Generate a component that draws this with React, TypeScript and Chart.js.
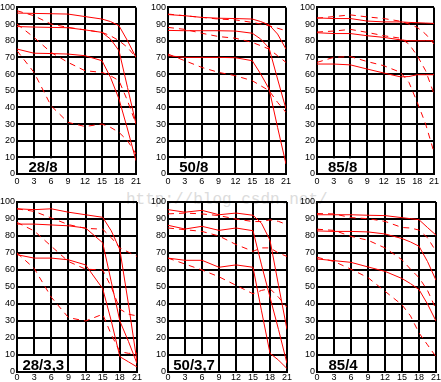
import React, { useEffect, useRef } from "react";
import { Chart, registerables } from "chart.js";
Chart.register(...registerables);

// shared field positions (mm from image centre)
const X = [0, 3, 6, 9, 12, 15, 16.5, 18, 19.5, 21];
const TITLES = ["28/8", "50/8", "85/8", "28/3,3", "50/3,7", "85/4"];

// 28/8
const P1_S1 = [96.6, 96.4, 96.2, 96, 94.5, 93, 91.5, 89, 80, 70];
const P1_S2 = [88.5, 88.2, 88, 87.8, 86.5, 85, 81, 74, 52, 30];
const P1_S3 = [75, 72.5, 72.3, 72, 71, 68, 58, 45, 27, 8];
const P1_D1 = [98, 95, 90, 88, 86.5, 85, 83, 80, 76, 70];
const P1_D2 = [90, 82, 73, 67, 62, 61, 59, 56, 44, 30];
const P1_D3 = [74, 61, 41, 31, 28.5, 30, 28, 25, 20, 12];
// 50/8
const P2_S1 = [95.7, 95, 94, 93.5, 93.3, 93, 91.5, 89.5, 84, 75];
const P2_S2 = [86.2, 86, 86, 86, 85.8, 84.5, 81, 75.5, 57, 39];
const P2_S3 = [71, 70, 70, 70, 69.8, 68, 60, 51, 28, 6];
const P2_D1 = [96, 95, 94, 93, 92.5, 91, 90, 89, 87.5, 86];
const P2_D2 = [88, 86.8, 84.5, 82.5, 81.5, 79, 77, 75, 71, 67];
const P2_D3 = [72, 68, 64, 61, 59, 56, 53, 50, 43, 37];
// 85/8
const P3_S1 = [93.7, 93.3, 93.3, 91.8, 91.3, 91.3, 91, 90.8, 90.6, 90.4];
const P3_S2 = [84.8, 84.3, 84.3, 83, 82, 80.5, 80, 80, 80, 80];
const P3_S3 = [66, 66, 65.5, 63, 60.6, 58.3, 58.5, 59.6, 59.6, 59.6];
const P3_D1 = [93.5, 94.5, 95.5, 94.3, 93.3, 91.7, 90, 88, 84, 78];
const P3_D2 = [85.2, 85.8, 86.8, 85, 83, 81.5, 78, 71, 62, 48];
const P3_D3 = [67, 70, 70.5, 67.5, 65, 61, 55, 43, 30, 13];
// 28/3,3
const P4_S1 = [96, 95.5, 96, 94, 92.5, 91, 83, 72, 40, 6];
const P4_S2 = [87, 87, 86.5, 86, 84.7, 76, 53, 30, 18, 5];
const P4_S3 = [69, 67, 67, 66, 63, 49, 30, 9, 6, 3];
const P4_D1 = [96, 94.5, 90.6, 86.7, 84.5, 84, 79, 73, 70.5, 68];
const P4_D2 = [88, 83, 74, 65, 60.5, 60, 50, 37, 34, 33];
const P4_D3 = [70, 61, 44, 32, 30, 34, 22, 12, 11, 11];
// 50/3,7
const P5_S1 = [95.5, 94, 95.1, 92.5, 93.5, 92.2, 87.5, 77.5, 51, 25];
const P5_S2 = [86.3, 84.1, 85.7, 83.3, 84.7, 83.1, 63, 44, 25, 5];
const P5_S3 = [67, 65.7, 65.7, 61.6, 63, 61.6, 36, 11, 7, 2];
const P5_D1 = [93, 93.5, 93, 92, 90, 88.5, 88.5, 89.5, 88.6, 86.7];
const P5_D2 = [84.7, 83.7, 82.7, 80, 75, 71, 73, 73, 70, 68];
const P5_D3 = [67, 63.5, 60, 56, 51, 46, 48, 49, 44, 38];
// 85/4
const P6_S1 = [92.5, 92.5, 92.5, 92.2, 92, 90.8, 90.2, 89.6, 85, 80.5];
const P6_S2 = [83, 82.7, 82.7, 82.4, 81.2, 78.5, 76.5, 74, 65, 54];
const P6_S3 = [66.5, 65.5, 64.5, 61.8, 59.2, 55, 52, 48.5, 40, 30];
const P6_D1 = [93.2, 93, 90.8, 90.2, 88.6, 85, 84.7, 83.5, 79, 71];
const P6_D2 = [84, 83.3, 79.8, 77.5, 73, 66, 60.5, 55.5, 48, 37];
const P6_D3 = [67.5, 65, 60.5, 55.5, 47.5, 39.5, 33, 23, 16, 9];

const SOLIDS = [
  [P1_S1, P1_S2, P1_S3],
  [P2_S1, P2_S2, P2_S3],
  [P3_S1, P3_S2, P3_S3],
  [P4_S1, P4_S2, P4_S3],
  [P5_S1, P5_S2, P5_S3],
  [P6_S1, P6_S2, P6_S3],
];
const DASHES = [
  [P1_D1, P1_D2, P1_D3],
  [P2_D1, P2_D2, P2_D3],
  [P3_D1, P3_D2, P3_D3],
  [P4_D1, P4_D2, P4_D3],
  [P5_D1, P5_D2, P5_D3],
  [P6_D1, P6_D2, P6_D3],
];

const FONT = '"Liberation Sans", Arial, sans-serif';

const labelPlugin = {
  id: "panelLabel",
  beforeDatasetsDraw(chart: any, _args: any, opts: any) {
    const { ctx } = chart;
    const x = chart.scales.x;
    const y = chart.scales.y;
    const x0 = x.getPixelForValue(0) + 1;
    const x1 = x.getPixelForValue(8.6);
    const y0 = y.getPixelForValue(10) + 1;
    const y1 = y.getPixelForValue(0) - 1;
    ctx.save();
    ctx.fillStyle = "#fff";
    ctx.fillRect(x0, y0, x1 - x0, y1 - y0);
    ctx.fillStyle = "#000";
    ctx.font = "bold 15px " + FONT;
    ctx.textAlign = "center";
    ctx.textBaseline = "alphabetic";
    ctx.fillText(opts.text, x.getPixelForValue(4.6), y.getPixelForValue(0) - 2);
    ctx.restore();
  },
};

type PanelProps = {
  idx: number;
  left: number;
  top: number;
  yw: number;
  plotW: number;
  padTop: number;
  plotH: number;
  xh: number;
  padRight: number;
  xPad: number;
};

function Panel(p: PanelProps) {
  const ref = useRef<HTMLCanvasElement | null>(null);
  const width = p.yw + p.plotW + p.padRight;
  const height = p.padTop + p.plotH + p.xh;
  useEffect(() => {
    if (!ref.current) return;
    const mk = (arr: number[], dashed: boolean) => ({
      data: X.map((xv, i) => ({ x: xv, y: arr[i] })),
      borderColor: "#ff0000",
      borderWidth: 1,
      borderDash: dashed ? [6, 5] : [],
      pointRadius: 0,
      tension: 0,
      fill: false,
    });
    const datasets = [
      ...SOLIDS[p.idx].map((a) => mk(a, false)),
      ...DASHES[p.idx].map((a) => mk(a, true)),
    ];
    const chart = new Chart(ref.current, {
      type: "line",
      data: { datasets },
      plugins: [labelPlugin as any],
      options: {
        animation: false,
        responsive: false,
        devicePixelRatio: 1,
        layout: { autoPadding: false, padding: { top: p.padTop, right: p.padRight, left: 0, bottom: 0 } },
        plugins: {
          legend: { display: false },
          tooltip: { enabled: false },
          panelLabel: { text: TITLES[p.idx] },
        } as any,
        scales: {
          x: {
            type: "linear",
            min: 0,
            max: 21,
            ticks: { stepSize: 3, color: "#000", font: { family: FONT, size: 9 }, padding: p.xPad, maxRotation: 0 },
            grid: { color: "#000", lineWidth: 2, drawTicks: false },
            border: { color: "#000", width: 2 },
            afterFit: (s: any) => {
              s.height = p.xh;
            },
          },
          y: {
            min: 0,
            max: 100,
            ticks: { stepSize: 10, color: "#000", font: { family: FONT, size: 9 }, padding: 2 },
            grid: { color: "#000", lineWidth: 2, drawTicks: false },
            border: { color: "#000", width: 2 },
            afterFit: (s: any) => {
              s.width = p.yw;
            },
          },
        },
      } as any,
    });
    return () => chart.destroy();
  }, []);
  return (
    <canvas
      ref={ref}
      width={width}
      height={height}
      style={{ position: "absolute", left: p.left, top: p.top, width, height, zIndex: 1 }}
    />
  );
}

export default function App() {
  const cols = [
    { left: 0, yw: 17, plotW: 120, padRight: 6 },
    { left: 145, yw: 23, plotW: 119, padRight: 6 },
    { left: 290, yw: 27, plotW: 120, padRight: 4 },
  ];
  const rows = [
    { top: 0, padTop: 4, plotH: 170, xh: 16, xPad: 2 },
    { top: 190, padTop: 12, plotH: 170, xh: 10, xPad: 0 },
  ];
  const panels: PanelProps[] = [];
  rows.forEach((r, ri) =>
    cols.forEach((c, ci) => panels.push({ idx: ri * 3 + ci, ...c, ...r }))
  );
  return (
    <div style={{ position: "fixed", left: 0, top: 0, width: 441, height: 382, background: "#fff", overflow: "hidden" }}>
      <div
        style={{
          position: "absolute",
          left: 126,
          top: 191,
          font: '16px "Liberation Mono", "Courier New", monospace',
          color: "#dcdcdc",
          whiteSpace: "nowrap",
          zIndex: 0,
        }}
      >
        http://blog.csdn.net/
      </div>
      {panels.map((p) => (
        <Panel key={p.idx} {...p} />
      ))}
    </div>
  );
}
